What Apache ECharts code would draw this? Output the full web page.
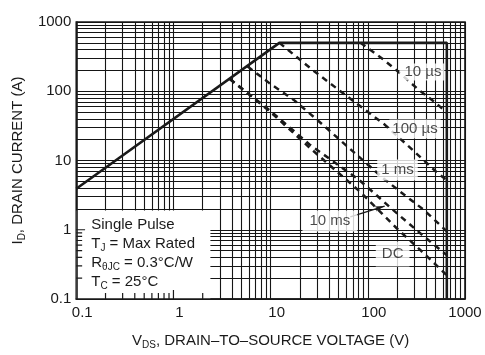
<!DOCTYPE html>
<html><head><meta charset="utf-8">
<script src="https://cdn.jsdelivr.net/npm/echarts@6/dist/echarts.min.js"></script>
<style>html,body{margin:0;padding:0;background:#fff}#c{width:485px;height:355px}</style>
</head><body><div id="c"></div>
<script>
// ---- data ----
const tickValues = [0.1, 1, 10, 100, 1000];
const xTickLabels = ['0.1', '1', '10', '100', '1000'];
const yTickLabels = ['0.1', '1', '10', '100', '1000'];
const minorMultiples = [2, 3, 4, 5, 6, 7, 8, 9];

// [V, A]
const limitBoundary = [[0.1, 3.9], [12.3, 500], [650, 500], [650, 0.1]];
const pulse10us = [[84, 500], [139, 300], [205, 192], [336, 104], [500, 68], [650, 49]];
const pulse100us = [[12.3, 500], [27, 203], [59, 88], [149, 33], [267, 15.7], [522, 6.6], [650, 5.2]];
const pulse1ms = [[5.8, 228], [9.7, 131], [17.3, 75], [34.6, 32.6], [145, 5.5], [237, 3.2], [378, 1.93], [650, 0.95]];
const pulse10ms = [[3.8, 150], [9.7, 53.6], [25.6, 16.7], [81.7, 5.23], [197, 1.75], [395, 0.76], [650, 0.43]];
const pulseDC = [[3.8, 150], [9.7, 52], [25.6, 15], [84, 3.5], [197, 1.06], [395, 0.43], [650, 0.22]];

const curveLabels = ['10 µs', '100 µs', '1 ms', '10 ms', 'DC'];
const curveLabelAnchors = [[360, 190], [306, 28.5], [202, 7.3], [40.7, 1.34], [180, 0.447]];
const arrowFrom = [66, 1.53];
const arrowTo = [149, 2.2];
const conditionText = ['Single Pulse', 'T{s|J} = Max Rated', 'R{s|θJC} = 0.3°C/W', 'T{s|C} = 25°C'];
const conditionBox = [[0.1, 0.1], [2.4, 1.9]];

// ---- layout / styles ----
const FONT = "'Liberation Sans', Arial, Helvetica, sans-serif";
const INK = '#1a1a1a';
const GRID = { left: 68, top: 22, width: 397, height: 277 };
const labelPads = [[1, 3, 1, 5], [2, 3, 2, 3], [3, 4, 3, 4], [3, 7, 3, 7], [5, 6, 5, 6]];
const subStyle = { fontSize: 10, lineHeight: 10, verticalAlign: 'bottom' };
const minorTickPx = 6, majorTickPx = 9;

const decades = Math.log10(tickValues[tickValues.length - 1] / tickValues[0]);
const xPxPerDecade = GRID.width / decades;
const yPxPerDecade = GRID.height / decades;

const gridValues = [];
tickValues.forEach((t, i) => {
  gridValues.push(t);
  if (i < tickValues.length - 1) minorMultiples.forEach(m => gridValues.push(+(t * m).toPrecision(3)));
});
const gridMarks = [];
gridValues.forEach(v => { gridMarks.push({ xAxis: v }); gridMarks.push({ yAxis: v }); });

// inward ticks along the left/bottom edge of the condition box (where the grid is blanked)
const isMajor = v => tickValues.some(t => Math.abs(Math.log10(t) - Math.log10(v)) < 1e-6);
const tickSegments = [];
const x0 = tickValues[0], y0 = tickValues[0];
gridValues.filter(v => v > x0 && v < conditionBox[1][0]).forEach(v => {
  const len = isMajor(v) ? majorTickPx : minorTickPx;
  tickSegments.push([[v, y0], [v, y0 * Math.pow(10, len / yPxPerDecade)]]);
});
gridValues.filter(v => v > y0 && v < conditionBox[1][1]).forEach(v => {
  const len = isMajor(v) ? majorTickPx : minorTickPx;
  tickSegments.push([[x0, v], [x0 * Math.pow(10, len / xPxPerDecade), v]]);
});

function tickIndex(v) {
  return tickValues.findIndex(t => Math.abs(Math.log10(t) - Math.log10(v)) < 1e-6);
}

const dashed = { type: [6, 5], width: 2.5, color: INK };

const tickSeries = tickSegments.map((seg, i) => ({
  name: 'tick' + i, type: 'line', z: 4, silent: true, data: seg, symbol: 'none',
  lineStyle: { color: INK, width: 1.2 }
}));

const chart = echarts.init(document.getElementById('c'), null, { renderer: 'canvas' });
chart.setOption({
  animation: false,
  backgroundColor: '#fff',
  textStyle: { fontFamily: FONT },
  grid: Object.assign({ show: true, borderColor: INK, borderWidth: 1.6, backgroundColor: 'transparent' }, GRID),
  xAxis: {
    type: 'log', logBase: 10, min: 0.1, max: 1000, z: 3,
    splitLine: { show: false },
    axisLine: { show: true, lineStyle: { color: INK, width: 1.6 } },
    axisTick: { show: false },
    minorTick: { show: false },
    axisLabel: {
      show: true, margin: 6, color: INK, fontSize: 15, fontFamily: FONT, showMinLabel: true, showMaxLabel: true,
      formatter: v => { const i = tickIndex(v); if (i < 0) return ''; return i === xTickLabels.length - 1 ? xTickLabels[i] : '{p|' + xTickLabels[i] + '}'; },
      rich: { p: { padding: [0, 0, 0, 12], fontSize: 15, color: INK, fontFamily: FONT } }
    },
    name: 'V{s|DS}, DRAIN–TO–SOURCE VOLTAGE (V)',
    nameLocation: 'middle', nameGap: 32,
    nameTextStyle: { color: INK, fontSize: 15, lineHeight: 19, fontFamily: FONT, rich: { s: subStyle } }
  },
  yAxis: {
    type: 'log', logBase: 10, min: 0.1, max: 1000, z: 3,
    splitLine: { show: false },
    axisLine: { show: true, lineStyle: { color: INK, width: 1.6 } },
    axisTick: { show: false },
    minorTick: { show: false },
    axisLabel: {
      show: true, margin: 5, color: INK, fontSize: 15, fontFamily: FONT, showMinLabel: true, showMaxLabel: true,
      formatter: v => { const i = tickIndex(v); return i < 0 ? '' : yTickLabels[i]; }
    },
    name: 'I{s|D}, DRAIN CURRENT (A)',
    nameLocation: 'middle', nameGap: 40,
    nameTextStyle: { color: INK, fontSize: 15, lineHeight: 19, fontFamily: FONT, rich: { s: subStyle } }
  },
  series: [
    {
      name: 'grid', type: 'line', z: 1, silent: true, data: [[0.1, 0.1]], symbol: 'none',
      lineStyle: { opacity: 0 },
      markLine: {
        z: 1, silent: true, symbol: ['none', 'none'], label: { show: false },
        lineStyle: { type: 'solid', color: '#151515', width: 1.1 },
        emphasis: { disabled: true },
        data: gridMarks
      }
    },
    {
      name: 'conditions', type: 'line', z: 2, silent: true, data: [[0.1, 0.1]], symbol: 'none',
      lineStyle: { opacity: 0 },
      markArea: {
        z: 2, silent: true,
        itemStyle: { color: '#ffffff', borderWidth: 0 },
        label: {
          show: true, position: [15, 5], align: 'left', verticalAlign: 'top',
          color: INK, fontSize: 15, lineHeight: 19, fontFamily: FONT,
          formatter: conditionText.join('\n'),
          rich: { s: subStyle }
        },
        emphasis: { disabled: true },
        data: [[{ coord: conditionBox[0] }, { coord: conditionBox[1] }]]
      }
    },
    ...tickSeries,
    { name: 'limit', type: 'line', z: 4, silent: true, data: limitBoundary, symbol: 'none', lineStyle: { color: INK, width: 2.6 } },
    { name: '10 µs', type: 'line', z: 4, silent: true, data: pulse10us, symbol: 'none', lineStyle: dashed },
    { name: '100 µs', type: 'line', z: 4, silent: true, data: pulse100us, symbol: 'none', lineStyle: dashed },
    { name: '1 ms', type: 'line', z: 4, silent: true, data: pulse1ms, symbol: 'none', lineStyle: dashed },
    {
      name: '10 ms', type: 'line', z: 4, silent: true, data: pulse10ms, symbol: 'none', lineStyle: dashed,
      markLine: {
        z: 4, silent: true, symbol: ['none', 'arrow'], symbolSize: [4, 10], label: { show: false },
        lineStyle: { type: 'solid', color: INK, width: 1.3 },
        emphasis: { disabled: true },
        data: [[{ coord: arrowFrom }, { coord: arrowTo }]]
      }
    },
    { name: 'DC', type: 'line', z: 4, silent: true, data: pulseDC, symbol: 'none', lineStyle: dashed },
    {
      name: 'labels', type: 'scatter', z: 6, silent: true, symbolSize: 1,
      itemStyle: { color: 'transparent' },
      label: { show: true, position: 'inside', formatter: '{b}', color: INK, fontSize: 15, fontFamily: FONT, backgroundColor: '#ffffff' },
      data: curveLabels.map((t, i) => ({ name: t, value: curveLabelAnchors[i], label: { padding: labelPads[i] } }))
    }
  ]
});
</script>
</body></html>
